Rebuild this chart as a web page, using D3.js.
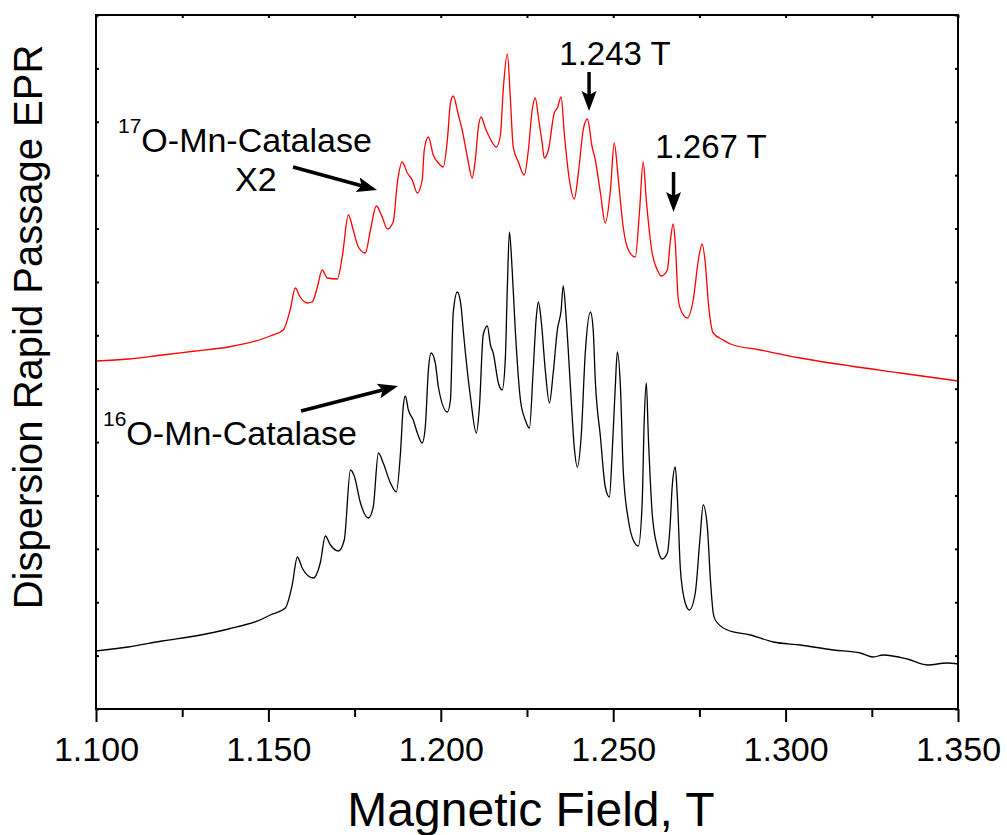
<!DOCTYPE html>
<html>
<head>
<meta charset="utf-8">
<script src="https://cdn.jsdelivr.net/npm/d3@7"></script>
<style>
  body { margin: 0; background: #fff; }
  svg { display: block; font-family: "Liberation Sans", Arial, Helvetica, sans-serif; }
</style>
</head>
<body>
<svg width="1007" height="835"></svg>
<script>
// data (magnetic field in T, dispersion signal in arb. units)
var fieldO16 = [
  1.1000,1.1094,1.1192,1.1288,1.1384,1.1482,1.1505,1.1549,1.1569,1.1584,
  1.1598,1.1630,1.1651,1.1665,1.1680,1.1703,1.1720,1.1738,1.1749,1.1767,
  1.1790,1.1804,1.1819,1.1833,1.1854,1.1871,1.1883,1.1891,1.1897,1.1906,
  1.1920,1.1932,1.1946,1.1955,1.1964,1.1972,1.1984,1.1993,1.2019,1.2028,
  1.2036,1.2048,1.2059,1.2065,1.2086,1.2103,1.2112,1.2123,1.2135,1.2144,
  1.2152,1.2167,1.2178,1.2187,1.2193,1.2199,1.2207,1.2216,1.2231,1.2245,
  1.2257,1.2268,1.2277,1.2283,1.2291,1.2303,1.2315,1.2326,1.2338,1.2349,
  1.2355,1.2364,1.2376,1.2387,1.2396,1.2407,1.2419,1.2434,1.2442,1.2448,
  1.2463,1.2477,1.2489,1.2497,1.2506,1.2512,1.2521,1.2529,1.2544,1.2558,
  1.2573,1.2584,1.2590,1.2596,1.2602,1.2613,1.2628,1.2642,1.2657,1.2666,
  1.2671,1.2680,1.2686,1.2695,1.2709,1.2721,1.2738,1.2752,1.2761,1.2773,
  1.2782,1.2790,1.2796,1.2831,1.2898,1.2964,1.3043,1.3138,1.3217,1.3254,
  1.3283,1.3353,1.3411,1.3469,1.3500];
var signalO16 = [
  58,62,68,73,80,90,94,101,124,152,
  141,131,147,173,164,158,169,239,233,206,
  191,202,256,246,226,217,256,302,313,299,
  289,276,266,282,339,356,346,322,297,309,
  396,417,402,379,312,276,302,374,383,364,
  356,326,319,349,422,477,439,379,309,289,
  281,339,392,407,389,339,306,336,379,399,
  423,389,322,262,242,272,356,397,379,329,
  272,222,212,256,322,357,322,239,189,169,
  163,206,289,326,272,196,162,150,156,189,
  222,242,212,139,106,99,116,172,204,182,
  129,96,89,79,74,67,64,59,56,52,
  54,50,44,46,45];

var fieldO17 = [
  1.1000,1.1094,1.1192,1.1288,1.1384,1.1482,1.1505,1.1543,1.1563,1.1578,
  1.1592,1.1613,1.1627,1.1642,1.1656,1.1671,1.1700,1.1714,1.1732,1.1746,
  1.1761,1.1781,1.1796,1.1813,1.1830,1.1845,1.1862,1.1874,1.1888,1.1903,
  1.1917,1.1932,1.1946,1.1952,1.1964,1.1978,1.1993,1.2007,1.2019,1.2028,
  1.2036,1.2051,1.2062,1.2077,1.2091,1.2100,1.2109,1.2117,1.2129,1.2138,
  1.2161,1.2173,1.2181,1.2193,1.2202,1.2210,1.2225,1.2242,1.2254,1.2265,
  1.2274,1.2283,1.2294,1.2300,1.2312,1.2329,1.2338,1.2349,1.2358,1.2373,
  1.2387,1.2399,1.2413,1.2425,1.2439,1.2448,1.2463,1.2477,1.2492,1.2503,
  1.2515,1.2529,1.2544,1.2564,1.2576,1.2587,1.2596,1.2613,1.2628,1.2639,
  1.2657,1.2666,1.2674,1.2680,1.2689,1.2700,1.2715,1.2732,1.2747,1.2758,
  1.2767,1.2776,1.2790,1.2819,1.2840,1.2926,1.3043,1.3188,1.3333,1.3500];
var signalO17 = [
  348,350,354,358,362,370,373,379,399,421,
  412,406,407,422,439,431,430,452,494,479,
  462,456,479,503,492,480,487,526,547,536,
  529,516,529,559,572,554,546,542,569,606,
  613,594,579,552,531,549,582,592,581,574,
  562,574,619,655,609,562,547,534,559,599,
  611,592,566,551,559,596,601,612,576,529,
  510,536,579,590,562,549,516,486,519,566,
  529,482,459,452,496,547,509,456,439,433,
  439,469,485,466,409,396,391,409,449,465,
  446,406,376,369,365,359,351,343,336,328];

var xMajorTicks = [1.100, 1.150, 1.200, 1.250, 1.300, 1.350];
var xMinorTicks = [1.125, 1.175, 1.225, 1.275, 1.325];
var markedFields = [1.243, 1.2675];
var markedLabels = ["1.243 T", "1.267 T"];

// layout
var width = 1007, height = 835;
var margin = {top: 15, right: 49, bottom: 126, left: 96};
var x = d3.scaleLinear().domain([1.1, 1.35]).range([margin.left, width - margin.right]);
var y = d3.scaleLinear().domain([0, 694]).range([height - margin.bottom, margin.top]);
var yTicks = d3.range(0, 695, 694 / 13);

var svg = d3.select('svg');

// curves
var line = d3.line()
  .x(function(d){ return x(d[0]); })
  .y(function(d){ return y(d[1]); })
  .curve(d3.curveMonotoneX);

svg.append('path')
  .datum(d3.zip(fieldO17, signalO17))
  .attr('d', line)
  .attr('fill', 'none')
  .attr('stroke', '#ff0000')
  .attr('stroke-width', 1.3);

svg.append('path')
  .datum(d3.zip(fieldO16, signalO16))
  .attr('d', line)
  .attr('fill', 'none')
  .attr('stroke', '#000')
  .attr('stroke-width', 1.3);

// axes
var bottom = height - margin.bottom;
var gx = svg.append('g')
  .attr('transform', 'translate(0,' + bottom + ')')
  .call(d3.axisBottom(x).tickValues(xMajorTicks).tickSize(13).tickPadding(15)
    .tickFormat(d3.format('.3f')));
gx.selectAll('text').attr('font-size', 34).attr('font-family', null).attr('fill', '#000');
var gxm = svg.append('g')
  .attr('transform', 'translate(0,' + bottom + ')')
  .call(d3.axisBottom(x).tickValues(xMinorTicks).tickSize(8).tickFormat(''));

var gt = svg.append('g')
  .attr('transform', 'translate(0,' + margin.top + ')')
  .call(d3.axisBottom(x).tickValues(xMajorTicks.concat(xMinorTicks)).tickSize(3).tickFormat(''));

var gl = svg.append('g')
  .attr('transform', 'translate(' + margin.left + ',0)')
  .call(d3.axisRight(y).tickValues(yTicks).tickSize(3).tickFormat(''));
var gr = svg.append('g')
  .attr('transform', 'translate(' + (width - margin.right) + ',0)')
  .call(d3.axisLeft(y).tickValues(yTicks).tickSize(3).tickFormat(''));

[gx, gxm, gt, gl, gr].forEach(function(g){
  g.select('.domain').remove();
  g.selectAll('line').attr('stroke', '#000').attr('stroke-width', 2);
});

svg.append('rect')
  .attr('x', margin.left).attr('y', margin.top)
  .attr('width', width - margin.left - margin.right)
  .attr('height', height - margin.top - margin.bottom)
  .attr('fill', 'none').attr('stroke', '#000').attr('stroke-width', 2);

// axis titles
svg.append('text')
  .attr('x', 531).attr('y', 826)
  .attr('text-anchor', 'middle').attr('font-size', 48)
  .text('Magnetic Field, T');

svg.append('text')
  .attr('transform', 'translate(42,327) rotate(-90)')
  .attr('text-anchor', 'middle').attr('font-size', 40)
  .text('Dispersion Rapid Passage EPR');

// annotations
function arrow(x1, y1, x2, y2, hl, hw) {
  var dx = x2 - x1, dy = y2 - y1, L = Math.hypot(dx, dy);
  var ux = dx / L, uy = dy / L;
  var bx = x2 - ux * hl, by = y2 - uy * hl;
  svg.append('line')
    .attr('x1', x1).attr('y1', y1)
    .attr('x2', bx + ux * 4).attr('y2', by + uy * 4)
    .attr('stroke', '#000').attr('stroke-width', 3.5);
  var pts = [
    [x2, y2],
    [bx - uy * hw / 2, by + ux * hw / 2],
    [bx + ux * 4, by + uy * 4],
    [bx + uy * hw / 2, by - ux * hw / 2]
  ];
  svg.append('polygon').attr('points', pts.join(' ')).attr('fill', '#000');
}

function isoLabel(mass, xx, yy) {
  var t = svg.append('text').attr('x', xx).attr('y', yy).attr('font-size', 34);
  t.append('tspan').attr('font-size', 21).attr('dy', -19).text(mass);
  t.append('tspan').attr('dy', 19).text('O-Mn-Catalase');
  return t;
}

isoLabel('17', 118, 152);
svg.append('text').attr('x', 235).attr('y', 191).attr('font-size', 34).text('X2');
arrow(293, 167, 377, 190, 20, 15);

isoLabel('16', 103, 445);
arrow(301, 411, 398, 386, 20, 15);

svg.append('text').attr('x', 615).attr('y', 65)
  .attr('text-anchor', 'middle').attr('font-size', 33).text(markedLabels[0]);
arrow(x(markedFields[0]), 72, x(markedFields[0]), 111, 20, 15);

svg.append('text').attr('x', 711).attr('y', 158)
  .attr('text-anchor', 'middle').attr('font-size', 33).text(markedLabels[1]);
arrow(x(markedFields[1]), 172, x(markedFields[1]), 212, 20, 15);
</script>
</body>
</html>
